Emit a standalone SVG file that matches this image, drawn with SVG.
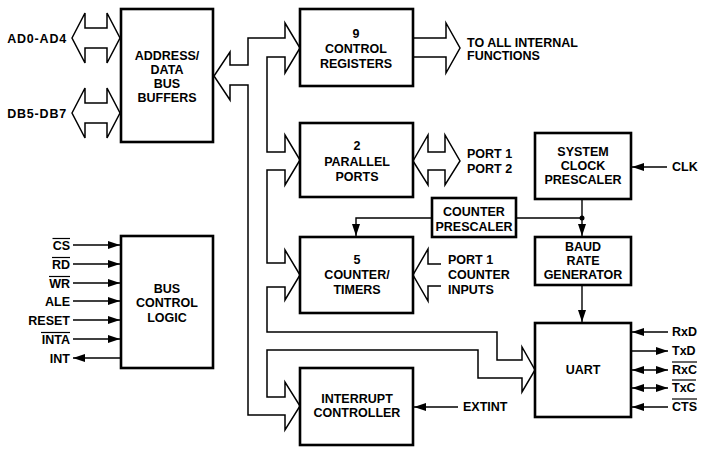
<svg xmlns="http://www.w3.org/2000/svg" width="701" height="451" viewBox="0 0 701 451">
<style>
text{font-family:"Liberation Sans",Arial,sans-serif;font-weight:bold;font-size:12.5px;fill:#000}
.c{text-anchor:middle}
.e{text-anchor:end}
.sp{letter-spacing:0.8px}
.box{fill:#fff;stroke:#000;stroke-width:2.6}
.bus{fill:#fff;stroke:#000;stroke-width:1.5;stroke-linejoin:miter}
.open{fill:none;stroke:#000;stroke-width:1.5}
.ln{fill:none;stroke:#000;stroke-width:1.4}
.ob{stroke:#000;stroke-width:1.2}
</style>
<defs>
<marker id="ah" viewBox="0 0 12 8" refX="12" refY="4" markerWidth="12" markerHeight="8" markerUnits="userSpaceOnUse" orient="auto-start-reverse">
<path d="M0,0 L12,4 L0,8 Z" fill="#000"/>
</marker>
</defs>
<rect width="701" height="451" fill="#fff"/>

<g id="connectors">
<!-- main internal bus -->
<polygon class="bus" points="230,85 248,85 248,415 285,415 285,430 300,406 285,382 285,397 267,397 267,350 478,350 478,378 522,378 522,392 535,370 522,347 522,360 497,360 497,332 267,332 267,287 285,287 285,300 300,275 285,250 285,263 267,263 267,170 285,170 285,185 300,160 285,135 285,152 267,152 267,57 285,57 285,73 300,48 285,23 285,38 248,38 248,65 230,65 230,52 214,76 230,100"/>
<!-- external data bus arrows -->
<polygon class="bus" points="72,38 85,13 85,28 107,28 107,13 120,38 107,63 107,48 85,48 85,63"/>
<polygon class="bus" points="72,113 85,88 85,103 107,103 107,88 120,113 107,138 107,123 85,123 85,138"/>
<!-- control registers output -->
<polyline class="open" points="413,38 446,38 446,23 460,48 446,73 446,57 413,57"/>
<!-- parallel ports -->
<polygon class="bus" points="413,161 428,135 428,152 445,152 445,135 460,161 445,185 445,170 428,170 428,185"/>
<!-- counter inputs -->
<polyline class="open" points="441,264 428,264 428,249 413,275 428,301 428,286 441,286"/>
<!-- bus control signals -->
<line class="ln" x1="73" y1="245" x2="120" y2="245" marker-end="url(#ah)"/>
<line class="ln" x1="73" y1="264" x2="120" y2="264" marker-end="url(#ah)"/>
<line class="ln" x1="73" y1="283" x2="120" y2="283" marker-end="url(#ah)"/>
<line class="ln" x1="73" y1="301" x2="120" y2="301" marker-end="url(#ah)"/>
<line class="ln" x1="73" y1="320" x2="120" y2="320" marker-end="url(#ah)"/>
<line class="ln" x1="73" y1="339" x2="120" y2="339" marker-end="url(#ah)"/>
<line class="ln" x1="120" y1="358" x2="73" y2="358" marker-end="url(#ah)"/>
<!-- clock -->
<line class="ln" x1="667" y1="167" x2="632" y2="167" marker-end="url(#ah)"/>
<line class="ln" x1="582" y1="200" x2="582" y2="236" marker-end="url(#ah)"/>
<polyline class="ln" points="582,218 356,218 356,236" marker-end="url(#ah)"/>
<circle cx="582" cy="218" r="2.5" fill="#000"/>
<line class="ln" x1="582" y1="286" x2="582" y2="322" marker-end="url(#ah)"/>
<!-- extint -->
<line class="ln" x1="458" y1="407" x2="414" y2="407" marker-end="url(#ah)"/>
<!-- uart signals -->
<line class="ln" x1="668" y1="332" x2="632" y2="332" marker-end="url(#ah)"/>
<line class="ln" x1="632" y1="351" x2="668" y2="351" marker-end="url(#ah)"/>
<line class="ln" x1="632" y1="370" x2="668" y2="370" marker-start="url(#ah)" marker-end="url(#ah)"/>
<line class="ln" x1="632" y1="388" x2="668" y2="388" marker-start="url(#ah)" marker-end="url(#ah)"/>
<line class="ln" x1="668" y1="407" x2="632" y2="407" marker-end="url(#ah)"/>
</g>

<g id="bus-buffers">
<rect class="box" x="121" y="9" width="92" height="133"/>
<text class="c" x="167" y="60">ADDRESS/</text>
<text class="c" x="167" y="74">DATA</text>
<text class="c" x="167" y="88">BUS</text>
<text class="c" x="167" y="102">BUFFERS</text>
</g>
<g id="ext-bus-labels">
<text class="e sp" x="67" y="43">AD0-AD4</text>
<text class="e sp" x="67" y="118">DB5-DB7</text>
</g>

<g id="control-registers">
<rect class="box" x="300" y="9" width="113" height="77"/>
<text class="c" x="356" y="38">9</text>
<text class="c" x="356" y="53">CONTROL</text>
<text class="c" x="356" y="68">REGISTERS</text>
</g>
<g id="internal-functions">
<text x="467" y="47">TO ALL INTERNAL</text>
<text x="467" y="60">FUNCTIONS</text>
</g>

<g id="parallel-ports">
<rect class="box" x="300" y="123" width="113" height="74"/>
<text class="c" x="357" y="150">2</text>
<text class="c" x="357" y="166">PARALLEL</text>
<text class="c" x="357" y="181">PORTS</text>
</g>
<g id="port-labels">
<text x="467" y="158">PORT 1</text>
<text x="467" y="173">PORT 2</text>
</g>

<g id="counter-prescaler">
<rect class="box" x="432" y="198" width="84" height="39"/>
<text class="c" x="474" y="216">COUNTER</text>
<text class="c" x="474" y="231">PRESCALER</text>
</g>

<g id="counter-timers">
<rect class="box" x="300" y="237" width="113" height="76"/>
<text class="c" x="357" y="264">5</text>
<text class="c" x="357" y="279">COUNTER/</text>
<text class="c" x="357" y="294">TIMERS</text>
</g>
<g id="counter-inputs">
<text x="448" y="264">PORT 1</text>
<text x="448" y="279">COUNTER</text>
<text x="448" y="294">INPUTS</text>
</g>

<g id="system-clock">
<rect class="box" x="535" y="133" width="96" height="66"/>
<text class="c" x="583" y="156">SYSTEM</text>
<text class="c" x="583" y="170">CLOCK</text>
<text class="c" x="583" y="184">PRESCALER</text>
<text x="672" y="171">CLK</text>
</g>

<g id="baud-rate">
<rect class="box" x="535" y="237" width="96" height="48"/>
<text class="c" x="583" y="251">BAUD</text>
<text class="c" x="583" y="265">RATE</text>
<text class="c" x="583" y="279">GENERATOR</text>
</g>

<g id="uart">
<rect class="box" x="535" y="323" width="96" height="94"/>
<text class="c" x="583" y="374">UART</text>
<text x="672" y="336">RxD</text>
<text x="672" y="355">TxD</text>
<text x="672" y="374">RxC</text>
<line class="ob" x1="672" y1="362" x2="697" y2="362"/>
<text x="672" y="392">TxC</text>
<line class="ob" x1="672" y1="380" x2="696" y2="380"/>
<text x="672" y="411">CTS</text>
<line class="ob" x1="672" y1="399" x2="697" y2="399"/>
</g>

<g id="bus-control-logic">
<rect class="box" x="121" y="236" width="92" height="132"/>
<text class="c" x="167" y="293">BUS</text>
<text class="c" x="167" y="307">CONTROL</text>
<text class="c" x="167" y="322">LOGIC</text>
<text class="e" x="70" y="249.5">CS</text>
<line class="ob" x1="52.5" y1="238.5" x2="70" y2="238.5"/>
<text class="e" x="70" y="268.5">RD</text>
<line class="ob" x1="52" y1="257.5" x2="70" y2="257.5"/>
<text class="e" x="70" y="287.5">WR</text>
<line class="ob" x1="49" y1="276.5" x2="70" y2="276.5"/>
<text class="e" x="70" y="305.5">ALE</text>
<text class="e" x="70" y="324.5">RESET</text>
<text class="e" x="70" y="343.5">INTA</text>
<line class="ob" x1="41" y1="332.5" x2="70" y2="332.5"/>
<text class="e" x="70" y="362.5">INT</text>
</g>

<g id="interrupt-controller">
<rect class="box" x="300" y="368" width="113" height="77"/>
<text class="c" x="357" y="403">INTERRUPT</text>
<text class="c" x="357" y="417">CONTROLLER</text>
<text x="463" y="411">EXTINT</text>
</g>
</svg>
